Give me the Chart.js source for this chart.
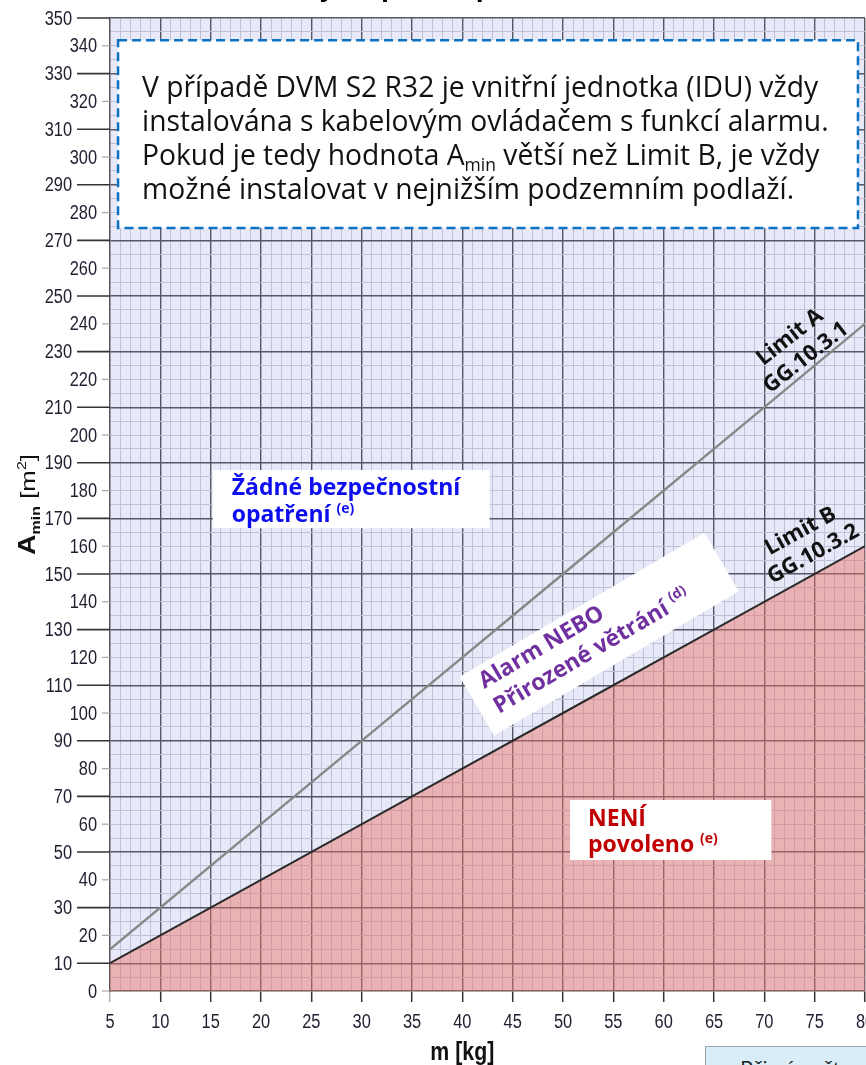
<!DOCTYPE html>
<html lang="cs">
<head>
<meta charset="utf-8">
<title>Amin podle m</title>
<script src="https://cdn.jsdelivr.net/npm/chart.js@4.4.1/dist/chart.umd.min.js"></script>
<style>
    html, body { margin: 0; padding: 0; background: #fff; overflow: hidden; }
    #page { position: relative; width: 866px; height: 1065px; overflow: hidden; }
    #chartWrap { position: absolute; left: 0; top: 0; width: 885px; height: 1065px; }
    #title { position: absolute; top: -32px; left: 196px; line-height: 30px; white-space: nowrap;
             font: bold 26px "Open Sans", sans-serif; color: #000; }
    #note { position: absolute; left: 705px; top: 1046px; width: 200px; height: 40px; box-sizing: border-box;
            background: #d8edf8; border: 1px solid #9aa4ad; color: #222;
            font: 22px "Open Sans", sans-serif; padding: 6px 0 0 34px; white-space: nowrap; }
</style>
</head>
<body>
<div id="page">
    <div id="chartWrap"><canvas id="aminChart"></canvas></div>
    <div id="title">Požadavky na plochu pro instalaci</div>
    <div id="note">Při výpočtu</div>
</div>
<script>
// Values
const massKg = [5, 20, 35, 50, 65, 80];
const limitA = [15, 60, 105, 150, 195, 240];   // Limit A GG.10.3.1
const limitB = [10, 40, 70, 100, 130, 160];    // Limit B GG.10.3.2
const xTickLabels = [5, 10, 15, 20, 25, 30, 35, 40, 45, 50, 55, 60, 65, 70, 75, 80];
const yTickLabels = [0, 10, 20, 30, 40, 50, 60, 70, 80, 90, 100, 110, 120, 130, 140, 150, 160, 170,
                     180, 190, 200, 210, 220, 230, 240, 250, 260, 270, 280, 290, 300, 310, 320, 330, 340, 350];

const ARIAL = '"Liberation Sans", Arial, sans-serif';
const SANS = '"Open Sans", "Noto Sans", sans-serif';
const NARROW_X = 0.82;   // Arial squeezed to look like Arial Narrow

const GRID_MAJOR = '#565868';
const GRID_MINOR = '#c0c2d8';

// draw a list of text runs (for sub/superscripts) starting at x
function drawRuns(ctx, runs, x, y) {
    runs.forEach(r => {
        ctx.font = r.font;
        ctx.fillText(r.text, x, y + (r.dy || 0));
        x += ctx.measureText(r.text).width;
    });
}

function runsWidth(ctx, runs) {
    let w = 0;
    runs.forEach(r => { ctx.font = r.font; w += ctx.measureText(r.text).width; });
    return w;
}

// narrow text: squeeze horizontally around the anchor
function narrowText(ctx, text, x, y, font) {
    ctx.save();
    ctx.font = font;
    ctx.translate(x, y);
    ctx.scale(NARROW_X, 1);
    ctx.fillText(text, 0, 0);
    ctx.restore();
}

// box + text lines, rotated around (cx, cy)
function rotatedLabel(ctx, cx, cy, angle, opt) {
    ctx.save();
    ctx.translate(cx, cy);
    ctx.rotate(angle * Math.PI / 180);
    if (opt.box) {
        ctx.fillStyle = '#ffffff';
        ctx.fillRect(-opt.box.w / 2, -opt.box.h / 2, opt.box.w, opt.box.h);
    }
    ctx.fillStyle = opt.color;
    ctx.textBaseline = 'alphabetic';
    ctx.textAlign = 'left';
    opt.lines.forEach(line => {
        const w = runsWidth(ctx, line.runs);
        const x0 = opt.align === 'center' ? -w / 2 : opt.left;
        drawRuns(ctx, line.runs, x0, line.y);
    });
    ctx.restore();
}

const plotBackground = {
    id: 'plotBackground',
    beforeDraw(chart) {
        const { ctx, chartArea: a } = chart;
        ctx.save();
        ctx.fillStyle = '#e7e9f8';
        ctx.fillRect(a.left, a.top, a.right - a.left, a.bottom - a.top);
        ctx.restore();
    }
};

const axisDecor = {
    id: 'axisDecor',
    afterDraw(chart) {
        const { ctx, chartArea: a, scales: { x, y } } = chart;
        ctx.save();
        // y ticks: long dark ticks on 10, 30, 50 ... short grey on the rest
        ctx.textAlign = 'right';
        ctx.textBaseline = 'middle';
        yTickLabels.forEach(v => {
            const py = y.getPixelForValue(v);
            const major = v % 20 === 10;
            ctx.beginPath();
            ctx.strokeStyle = major ? '#333333' : '#a8a8a8';
            ctx.lineWidth = major ? 1.6 : 1.2;
            ctx.moveTo(a.left - (major ? 33 : 8), py);
            ctx.lineTo(a.left, py);
            ctx.stroke();
            ctx.fillStyle = '#1e2030';
            narrowText(ctx, String(v), a.left - (major ? 38 : 13), py + 1, '20px ' + ARIAL);
        });

        // x tick labels
        ctx.textAlign = 'center';
        ctx.textBaseline = 'alphabetic';
        xTickLabels.forEach(v => {
            narrowText(ctx, String(v), x.getPixelForValue(v), a.bottom + 37, '20px ' + ARIAL);
        });

        // y title  A_min [m2]
        ctx.fillStyle = '#111';
        ctx.textAlign = 'left';
        const yTitle = [
            { text: 'A', font: 'bold 23px ' + ARIAL },
            { text: 'min', font: 'bold 13px ' + ARIAL, dy: 5 },
            { text: ' [m', font: '21px ' + ARIAL },
            { text: '2', font: '13px ' + ARIAL, dy: -9 },
            { text: ']', font: '21px ' + ARIAL }
        ];
        const tw = runsWidth(ctx, yTitle);
        ctx.save();
        ctx.translate(a.left - 75, (a.top + a.bottom) / 2);
        ctx.rotate(-Math.PI / 2);
        ctx.scale(101 / tw, 1);
        drawRuns(ctx, yTitle, -tw / 2, 0);
        ctx.restore();

        // x title
        ctx.textAlign = 'center';
        narrowText(ctx, 'm [kg]', x.getPixelForValue(40), a.bottom + 69, 'bold 26px ' + ARIAL);
        ctx.restore();
    }
};

const annotations = {
    id: 'annotations',
    afterDraw(chart) {
        const { ctx, scales: { x, y } } = chart;
        ctx.save();

        // dashed info box
        const bl = x.getPixelForValue(5.8), br = x.getPixelForValue(79.3);
        const bt = y.getPixelForValue(342), bb = y.getPixelForValue(274.5);
        ctx.fillStyle = '#ffffff';
        ctx.fillRect(bl, bt, br - bl, bb - bt);
        ctx.setLineDash([9, 5]);
        ctx.strokeStyle = '#0b72c4';
        ctx.lineWidth = 2.5;
        ctx.strokeRect(bl, bt, br - bl, bb - bt);
        ctx.setLineDash([]);

        const f = '29px ' + SANS;
        const infoLines = [
            [{ text: 'V případě DVM S2 R32 je vnitřní jednotka (IDU) vždy', font: f }],
            [{ text: 'instalována s kabelovým ovládačem s funkcí alarmu.', font: f }],
            [{ text: 'Pokud je tedy hodnota A', font: f },
             { text: 'min', font: '18px ' + SANS, dy: 6 },
             { text: ' větší než Limit B, je vždy', font: f }],
            [{ text: 'možné instalovat v nejnižším podzemním podlaží.', font: f }]
        ];
        const sx = 676 / runsWidth(ctx, infoLines[0]);
        ctx.fillStyle = '#111';
        ctx.textAlign = 'left';
        ctx.textBaseline = 'alphabetic';
        infoLines.forEach((runs, i) => {
            ctx.save();
            ctx.translate(bl + 24, bt + 57 + i * 34);
            ctx.scale(sx, 1);
            drawRuns(ctx, runs, 0, 0);
            ctx.restore();
        });

        // "Žádné bezpečnostní opatření"
        const bold = s => 'bold ' + s + 'px ' + SANS;
        let l = x.getPixelForValue(15.2), r = x.getPixelForValue(42.7);
        let t = y.getPixelForValue(187.4), b = y.getPixelForValue(166.5);
        ctx.fillStyle = '#ffffff';
        ctx.fillRect(l, t, r - l, b - t);
        ctx.fillStyle = '#0c0cf0';
        drawRuns(ctx, [{ text: 'Žádné bezpečnostní', font: bold(23) }], l + 19, t + 25);
        drawRuns(ctx, [{ text: 'opatření ', font: bold(23) }, { text: '(e)', font: bold(14), dy: -9 }], l + 19, t + 52);

        // "NENÍ povoleno"
        l = x.getPixelForValue(50.7); r = x.getPixelForValue(70.7);
        t = y.getPixelForValue(68.7); b = y.getPixelForValue(47.1);
        ctx.fillStyle = '#ffffff';
        ctx.fillRect(l, t, r - l, b - t);
        ctx.fillStyle = '#c00000';
        drawRuns(ctx, [{ text: 'NENÍ', font: bold(23) }], l + 18, t + 26);
        drawRuns(ctx, [{ text: 'povoleno ', font: bold(23) }, { text: '(e)', font: bold(14), dy: -9 }], l + 18, t + 52);

        // "Alarm NEBO Přirozené větrání" (rotated)
        rotatedLabel(ctx, x.getPixelForValue(53.6), y.getPixelForValue(128.4), -30.5, {
            box: { w: 284, h: 68 }, color: '#7030a0', left: -127,
            lines: [
                { y: -11, runs: [{ text: 'Alarm NEBO', font: bold(23) }] },
                { y: 18, runs: [{ text: 'Přirozené větrání ', font: bold(23) }, { text: '(d)', font: bold(14), dy: -9 }] }
            ]
        });

        // line labels
        rotatedLabel(ctx, x.getPixelForValue(73.3), y.getPixelForValue(231.7), -38, {
            color: '#111', align: 'center',
            lines: [
                { y: -6, runs: [{ text: 'Limit A', font: bold(22) }] },
                { y: 20, runs: [{ text: 'GG.10.3.1', font: bold(22) }] }
            ]
        });
        rotatedLabel(ctx, x.getPixelForValue(74.2), y.getPixelForValue(161.5), -29, {
            color: '#111', align: 'center',
            lines: [
                { y: -6, runs: [{ text: 'Limit B', font: bold(22) }] },
                { y: 20, runs: [{ text: 'GG.10.3.2', font: bold(22) }] }
            ]
        });

        ctx.restore();
    }
};

const ctx = document.getElementById('aminChart').getContext('2d');

new Chart(ctx, {
    type: 'line',
    data: {
        datasets: [
            {
                label: 'Limit A',
                data: massKg.map((m, i) => ({ x: m, y: limitA[i] })),
                borderColor: '#878787',
                borderWidth: 2.4,
                pointRadius: 0,
                fill: false
            },
            {
                label: 'Limit B',
                data: massKg.map((m, i) => ({ x: m, y: limitB[i] })),
                borderColor: '#2a2a2a',
                borderWidth: 2,
                pointRadius: 0,
                fill: 'origin',
                backgroundColor: 'rgba(235, 110, 100, 0.45)'
            }
        ]
    },
    options: {
        responsive: true,
        maintainAspectRatio: false,
        animation: false,
        layout: { padding: { top: 18, right: 20, left: 0, bottom: 0 } },
        plugins: {
            legend: { display: false },
            tooltip: { enabled: false }
        },
        scales: {
            x: {
                type: 'linear',
                min: 5,
                max: 80,
                afterFit: function(scale) { scale.height = 74; },
                ticks: { stepSize: 1, autoSkip: false, maxRotation: 0, display: false },
                grid: {
                    color: c => c.tick.value === 5 ? 'rgba(0,0,0,0)' : (c.tick.value % 5 === 0 ? GRID_MAJOR : GRID_MINOR),
                    lineWidth: c => c.tick.value % 5 === 0 ? 1.4 : 1,
                    tickLength: 11,
                    tickWidth: 1.5,
                    tickColor: c => c.tick.value === 5 ? '#b0b0b0' : (c.tick.value % 5 === 0 ? '#333' : 'rgba(0,0,0,0)')
                },
                border: { color: '#555', width: 1.5 }
            },
            y: {
                min: 0,
                max: 350,
                afterFit: function(scale) { scale.width = 110; },
                ticks: { stepSize: 5, display: false },
                grid: {
                    drawTicks: false,
                    color: c => c.tick.value === 0 ? 'rgba(0,0,0,0)' : (c.tick.value % 20 === 10 ? GRID_MAJOR : GRID_MINOR),
                    lineWidth: c => c.tick.value % 20 === 10 ? 1.4 : 1
                },
                border: { color: '#555', width: 1.5 }
            }
        }
    },
    plugins: [plotBackground, axisDecor, annotations]
});
</script>
</body>
</html>
